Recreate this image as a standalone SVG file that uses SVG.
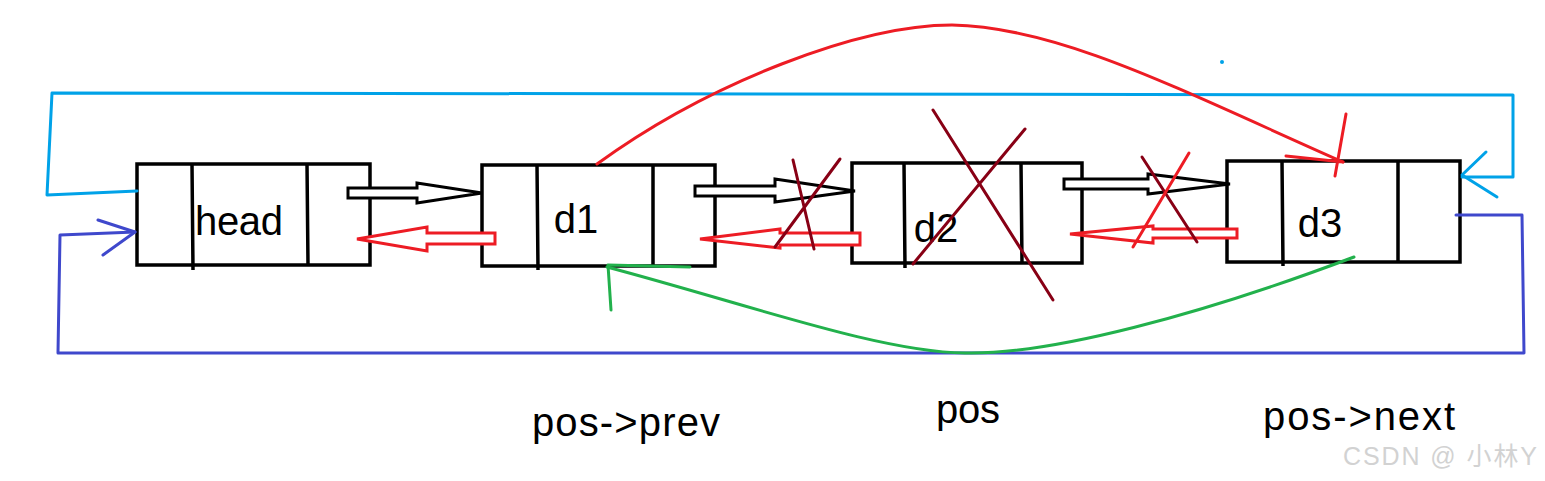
<svg xmlns="http://www.w3.org/2000/svg" width="1545" height="481" viewBox="0 0 1545 481">
<style>
.box{fill:#fff;stroke:#000;stroke-width:3.5}
.div{stroke:#000;stroke-width:3.5;fill:none}
.lbl{font-family:"Liberation Sans","Noto Sans",Arial,sans-serif;font-size:40px;fill:#000}
.hb{fill:#fff;stroke:#000;stroke-width:3;stroke-linejoin:miter}
.hr{fill:#fff;stroke:#ed1c24;stroke-width:3;stroke-linejoin:miter}
.ln{fill:none;stroke-width:3;stroke-linecap:round;stroke-linejoin:round}
.lb{stroke:#00a2e8}
.ib{stroke:#3f48cc}
.rd{stroke:#ed1c24}
.gr{stroke:#22b14c}
.dr{stroke:#880015}
.wm{font-family:"Liberation Sans","Noto Sans CJK SC",sans-serif;font-size:25px;fill:#d2d2d2}
</style>
<rect width="1545" height="481" fill="#fff"/>

<g id="head">
<rect class="box" x="137" y="164" width="233" height="101"/>
<path class="div" d="M192,164 L193,270 M307,164 L308,265"/>
<text class="lbl" x="239" y="235" text-anchor="middle" textLength="88">head</text>
</g>
<g id="d1">
<rect class="box" x="482" y="165" width="233" height="101"/>
<path class="div" d="M537,165 L538,270 M653,165 L653,266"/>
<text class="lbl" x="576" y="233" text-anchor="middle">d1</text>
</g>
<g id="d2">
<rect class="box" x="852" y="163" width="230" height="100"/>
<path class="div" d="M904,163 L905,268 M1021,163 L1022,263"/>
<text class="lbl" x="936" y="242" text-anchor="middle">d2</text>
</g>
<g id="d3">
<rect class="box" x="1227" y="161" width="233" height="101"/>
<path class="div" d="M1282,161 L1283,266 M1398,161 L1398,262"/>
<text class="lbl" x="1320" y="237" text-anchor="middle">d3</text>
</g>

<g id="connectors">
<polygon class="hb" points="348,188 417,188 417,183 482,193 417,203 417,198 348,198"/>
<polygon class="hr" points="495,233 427,233 427,227 357,239 427,251 427,244 495,244"/>
<polygon class="hb" points="695,186 775,186 775,179 855,191 775,202 775,196 695,196"/>
<polygon class="hr" points="860,233 780,233 780,229 700,239 780,248 780,245 860,245"/>
<polygon class="hb" points="1064,179 1148,179 1148,174 1230,184 1148,194 1148,189 1064,189"/>
<polygon class="hr" points="1237,229 1153,229 1153,226 1070,234 1153,243 1153,238 1237,238"/>

<path class="ln lb" d="M1462,177 L1513,177 L1513,95 L52,93 L47,195 L137,191"/>
<path class="ln lb" d="M1486,152 L1462,175 L1497,197"/>
<circle cx="1222" cy="62" r="2" fill="#00a2e8"/>

<path class="ln ib" d="M1456,215 L1522,215 L1524,353 L58,353 L60,235 L135,232"/>
<path class="ln ib" d="M98,220 L135,232 L103,255"/>

<path class="ln rd" d="M597,164 C710,82 860,25 952,25 C1060,27 1180,90 1343,162"/>
<path class="ln rd" d="M1286,156 L1343,162 M1346,114 L1335,176"/>

<path class="ln gr" d="M1354,257 C1200,315 1050,355 965,353 C880,352 750,305 607,267"/>
<path class="ln gr" d="M690,267 L608,265 L611,310"/>
</g>

<g id="marks">
<path class="ln dr" d="M793,160 L814,249 M840,159 L775,247"/>
<path class="ln dr" d="M933,110 L1053,300 M1025,129 L913,264"/>
<path class="ln dr" d="M1142,157 L1197,242"/>
<path class="ln rd" d="M1189,153 L1133,247"/>
</g>

<g id="labels">
<text class="lbl" x="532" y="436" textLength="188">pos-&gt;prev</text>
<text class="lbl" x="936" y="423" textLength="64">pos</text>
<text class="lbl" x="1263" y="430" textLength="192">pos-&gt;next</text>
<text class="wm" x="1343" y="465" textLength="194">CSDN @ 小林Y</text>
</g>
</svg>
